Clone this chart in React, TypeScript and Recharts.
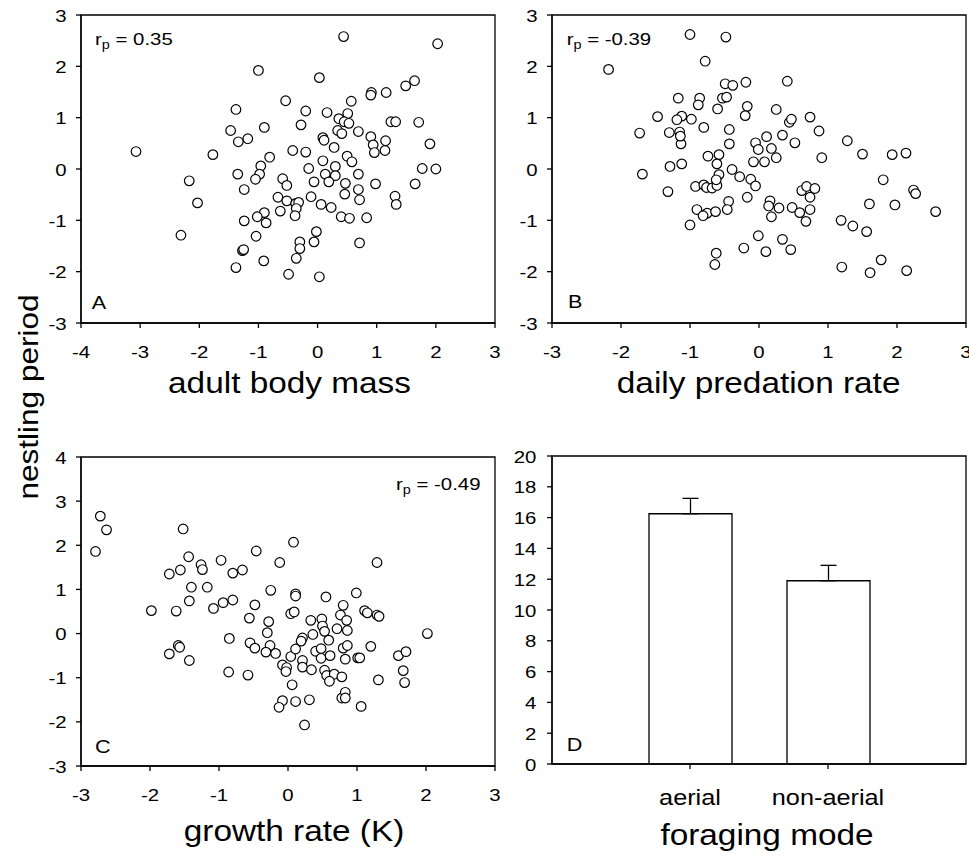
import React from "react";
import {
  ScatterChart,
  Scatter,
  BarChart,
  Bar,
  ErrorBar,
  XAxis,
  YAxis,
  ReferenceArea,
} from "recharts";

const FONT = '"Liberation Sans", Arial, Helvetica, sans-serif';

// panel A: adult body mass vs nestling period
const bodyMass: [number, number][] = [
  [-3.07, 0.34], [0.44, 2.58], [2.03, 2.44], [-1.0, 1.92], [0.03, 1.78],
  [1.64, 1.72], [1.49, 1.62], [0.91, 1.49], [0.9, 1.44], [1.16, 1.49],
  [-0.54, 1.33], [0.57, 1.32], [-1.38, 1.16], [-0.2, 1.13], [0.16, 1.1],
  [0.51, 1.08], [0.36, 0.98], [0.45, 0.92], [0.53, 0.89], [1.24, 0.92],
  [1.32, 0.92], [1.71, 0.91], [-0.28, 0.86], [-0.9, 0.81], [-1.47, 0.75],
  [0.34, 0.75], [0.41, 0.69], [0.69, 0.73], [-1.18, 0.59], [-1.34, 0.53],
  [0.09, 0.61], [0.11, 0.56], [0.28, 0.42], [0.9, 0.63], [0.94, 0.47],
  [0.96, 0.32], [1.15, 0.55], [1.14, 0.36], [1.9, 0.49], [-1.77, 0.28],
  [-0.42, 0.36], [-0.2, 0.33], [-0.81, 0.23], [-0.96, 0.06], [0.5, 0.25],
  [0.58, 0.14], [0.09, 0.16], [0.3, 0.05], [-0.15, 0.01], [1.77, 0.01],
  [2.0, 0.0], [-1.35, -0.1], [-0.98, -0.1], [-1.05, -0.2], [-2.17, -0.23],
  [-0.59, -0.19], [-0.52, -0.32], [0.13, -0.1], [0.3, -0.13], [-0.06, -0.25],
  [0.19, -0.25], [0.47, -0.28], [0.69, -0.1], [0.98, -0.29], [1.65, -0.29],
  [-1.24, -0.4], [-2.03, -0.66], [-0.67, -0.55], [-0.52, -0.62], [-0.37, -0.67],
  [-0.32, -0.65], [-0.36, -0.77], [-0.11, -0.54], [0.06, -0.69], [0.23, -0.75],
  [0.46, -0.49], [0.69, -0.4], [0.71, -0.6], [1.31, -0.53], [1.33, -0.69],
  [-0.63, -0.82], [-0.9, -0.85], [-1.02, -0.93], [-0.87, -1.05], [-1.24, -1.01],
  [-0.38, -0.91], [0.4, -0.93], [0.54, -0.96], [0.83, -0.95], [-2.31, -1.29],
  [-1.04, -1.31], [-0.02, -1.22], [-0.06, -1.42], [-0.3, -1.42], [-0.3, -1.55],
  [-1.27, -1.59], [-1.25, -1.57], [0.71, -1.44], [-0.36, -1.74], [-0.91, -1.79],
  [-1.38, -1.92], [-0.49, -2.05], [0.03, -2.1],
];

// panel B: daily predation rate vs nestling period
const predation: [number, number][] = [
  [-2.18, 1.94], [-1.0, 2.62], [-0.48, 2.57], [-0.78, 2.1], [-0.49, 1.66],
  [-0.38, 1.63], [-0.19, 1.69], [0.41, 1.71], [-1.17, 1.38], [-0.86, 1.38],
  [-0.88, 1.25], [-0.53, 1.38], [-0.47, 1.4], [-0.6, 1.17], [-0.17, 1.22],
  [-0.2, 1.04], [0.25, 1.16], [-1.47, 1.02], [-1.12, 1.03], [-1.19, 0.96],
  [-0.98, 0.97], [0.44, 0.91], [0.47, 0.97], [0.74, 1.01], [-1.73, 0.7],
  [-1.3, 0.71], [-1.15, 0.72], [-1.13, 0.49], [-1.14, 0.64], [-0.8, 0.81],
  [-0.43, 0.77], [-0.43, 0.49], [0.87, 0.74], [0.11, 0.63], [0.34, 0.66],
  [-0.05, 0.51], [-0.01, 0.38], [0.18, 0.4], [0.52, 0.51], [1.28, 0.55],
  [-0.74, 0.25], [-0.58, 0.28], [-0.61, 0.1], [-1.29, 0.05], [-1.12, 0.1],
  [-0.08, 0.14], [0.08, 0.14], [0.25, 0.22], [0.91, 0.22], [1.5, 0.29],
  [1.93, 0.28], [2.13, 0.31], [-0.39, -0.01], [-1.69, -0.1], [-0.58, -0.11],
  [-0.28, -0.15], [-0.12, -0.2], [-0.05, -0.33], [-0.92, -0.34], [-0.8, -0.31],
  [-0.76, -0.36], [-0.68, -0.37], [-0.61, -0.32], [-0.62, -0.21], [-1.32, -0.44],
  [-0.44, -0.63], [-0.17, -0.55], [0.16, -0.62], [0.14, -0.72], [0.29, -0.76],
  [0.18, -0.93], [0.48, -0.75], [0.59, -0.85], [0.62, -0.42], [0.69, -0.34],
  [0.81, -0.38], [0.74, -0.55], [0.74, -0.79], [0.68, -1.02], [-0.9, -0.79],
  [-0.75, -0.86], [-0.81, -0.91], [-0.63, -0.83], [-0.46, -0.79], [-1.0, -1.09],
  [-0.01, -1.3], [0.34, -1.37], [-0.22, -1.54], [0.1, -1.61], [0.46, -1.57],
  [-0.62, -1.64], [-0.64, -1.86], [1.8, -0.21], [2.24, -0.41], [2.27, -0.48],
  [1.6, -0.68], [1.97, -0.7], [2.56, -0.83], [1.19, -1.0], [1.36, -1.11],
  [1.56, -1.22], [1.77, -1.77], [1.2, -1.91], [1.61, -2.02], [2.14, -1.98],
];

// panel C: growth rate (K) vs nestling period
const growth: [number, number][] = [
  [-2.72, 2.66], [-2.63, 2.35], [-2.79, 1.86], [-1.52, 2.37], [-1.44, 1.74],
  [-1.72, 1.35], [-1.56, 1.44], [-1.26, 1.56], [-1.24, 1.45], [-0.97, 1.66],
  [-0.8, 1.37], [-0.66, 1.44], [-0.46, 1.87], [-0.12, 1.61], [0.08, 2.07],
  [1.29, 1.61], [-1.4, 1.05], [-1.17, 1.05], [-0.25, 0.98], [0.11, 0.9],
  [0.11, 0.85], [0.55, 0.83], [0.99, 0.92], [-1.98, 0.52], [-1.62, 0.51],
  [-1.43, 0.74], [-1.08, 0.57], [-0.94, 0.7], [-0.8, 0.76], [-0.48, 0.65],
  [-0.56, 0.35], [-0.28, 0.27], [-0.3, 0.02], [0.04, 0.45], [0.09, 0.49],
  [0.33, 0.3], [0.49, 0.33], [0.5, 0.17], [0.53, 0.05], [0.36, -0.02],
  [0.59, -0.15], [0.21, -0.1], [0.19, -0.17], [0.71, 0.11], [0.76, 0.42],
  [0.8, 0.64], [0.85, 0.3], [0.86, 0.07], [1.11, 0.52], [1.15, 0.47],
  [1.29, 0.42], [1.32, 0.39], [2.02, 0.0], [-0.85, -0.11], [-0.55, -0.21],
  [-0.48, -0.33], [-0.26, -0.27], [-0.32, -0.42], [-0.18, -0.45], [0.04, -0.52],
  [0.11, -0.35], [0.4, -0.4], [0.48, -0.34], [0.48, -0.56], [0.61, -0.5],
  [0.8, -0.33], [0.86, -0.27], [0.83, -0.58], [1.01, -0.55], [1.04, -0.55],
  [1.2, -0.29], [-1.72, -0.46], [-1.59, -0.27], [-1.57, -0.31], [-1.43, -0.61],
  [-0.86, -0.87], [-0.58, -0.94], [-0.08, -0.71], [-0.02, -0.77], [-0.03, -0.86],
  [0.21, -0.61], [0.21, -0.76], [0.34, -0.82], [0.53, -0.83], [0.56, -0.95],
  [0.67, -0.92], [0.6, -1.08], [0.78, -0.98], [0.06, -1.16], [1.31, -1.05],
  [1.6, -0.5], [1.71, -0.41], [1.67, -0.84], [1.69, -1.11], [-0.08, -1.52],
  [-0.13, -1.67], [0.11, -1.54], [0.31, -1.5], [0.78, -1.46], [0.83, -1.33],
  [0.83, -1.46], [1.06, -1.65], [0.24, -2.07],
];

// panel D: foraging mode
const modes = ["aerial", "non-aerial"];
const modeMeans = [16.25, 11.9];
const modeErrors = [1.0, 1.0];

const ticksA = [-4, -3, -2, -1, 0, 1, 2, 3];
const ticksX3 = [-3, -2, -1, 0, 1, 2, 3];
const ticksY3 = [-3, -2, -1, 0, 1, 2, 3];
const ticksY4 = [-3, -2, -1, 0, 1, 2, 3, 4];
const ticksD = [0, 2, 4, 6, 8, 10, 12, 14, 16, 18, 20];

const toPoints = (arr: [number, number][]) => arr.map(([x, y]) => ({ x, y }));

const axisLine = { stroke: "#000", strokeWidth: 1.3 };

const XTick = (props: any) => {
  const { x, y, payload } = props;
  return (
    <text
      transform={`translate(${x},${y + 29.5}) scale(1.2,1)`}
      textAnchor="middle"
      fontSize={17}
      fontFamily={FONT}
      fill="#000"
    >
      {payload.value}
    </text>
  );
};

const makeYTick = (gap: number) => (props: any) => {
  const { x, y, payload } = props;
  return (
    <text
      transform={`translate(${x - gap},${y + 6.5}) scale(1.2,1)`}
      textAnchor="end"
      fontSize={17}
      fontFamily={FONT}
      fill="#000"
    >
      {payload.value}
    </text>
  );
};

const ModeTick = (props: any) => {
  const { x, y, payload } = props;
  return (
    <text
      transform={`translate(${x},${y + 36}) scale(1.15,1)`}
      textAnchor="middle"
      fontSize={22}
      fontFamily={FONT}
      fill="#000"
    >
      {modes[payload.value - 1]}
    </text>
  );
};

const dot = (props: any) => (
  <circle cx={props.cx} cy={props.cy} r={4.8} fill="#fff" stroke="#000" strokeWidth={1.2} />
);

function Panel({
  left,
  top,
  height,
  points,
  xDomain,
  xTicks,
  yDomain,
  yTicks,
}: {
  left: number;
  top: number;
  height: number;
  points: [number, number][];
  xDomain: [number, number];
  xTicks: number[];
  yDomain: [number, number];
  yTicks: number[];
}) {
  return (
    <div style={{ position: "absolute", left, top }}>
      <ScatterChart width={520} height={height} margin={{ top: 15, right: 25, left: 0, bottom: 0 }}>
        <XAxis
          type="number"
          dataKey="x"
          domain={xDomain}
          ticks={xTicks}
          interval={0}
          height={77}
          tickSize={5}
          tickMargin={0}
          axisLine={axisLine}
          tickLine={axisLine}
          tick={<XTick />}
          allowDataOverflow
        />
        <YAxis
          type="number"
          dataKey="y"
          domain={yDomain}
          ticks={yTicks}
          interval={0}
          width={81}
          tickSize={5}
          tickMargin={0}
          axisLine={axisLine}
          tickLine={axisLine}
          tick={makeYTick(9.3)}
          allowDataOverflow
        />
        <ReferenceArea
          x1={xDomain[0]}
          x2={xDomain[1]}
          y1={yDomain[0]}
          y2={yDomain[1]}
          fill="none"
          stroke="#000"
          strokeWidth={1.3}
          ifOverflow="visible"
        />
        <Scatter data={toPoints(points)} shape={dot} isAnimationActive={false} />
      </ScatterChart>
    </div>
  );
}

function T({
  x,
  y,
  size,
  anchor = "start",
  sx = 1.15,
  rotate,
  children,
}: {
  x: number;
  y: number;
  size: number;
  anchor?: "start" | "middle" | "end";
  sx?: number;
  rotate?: number;
  children: React.ReactNode;
}) {
  const rot = rotate ? ` rotate(${rotate})` : "";
  return (
    <text
      transform={`translate(${x},${y})${rot} scale(${sx},1)`}
      textAnchor={anchor}
      fontSize={size}
      fontFamily={FONT}
      fill="#000"
    >
      {children}
    </text>
  );
}

function Rp({ x, y, value }: { x: number; y: number; value: string }) {
  return (
    <text transform={`translate(${x},${y}) scale(1.2,1)`} fontSize={17} fontFamily={FONT} fill="#000">
      r
      <tspan dy={4} fontSize={12}>
        p
      </tspan>
      <tspan dy={-4}>{` = ${value}`}</tspan>
    </text>
  );
}

export default function App() {
  const barData = modes.map((m, i) => ({
    pos: i + 1,
    mode: m,
    mean: modeMeans[i],
    err: [0, modeErrors[i]],
  }));

  return (
    <div style={{ position: "absolute", left: 0, top: 0, width: 969, height: 856, background: "#fff" }}>
      <Panel left={0} top={0} height={400} points={bodyMass} xDomain={[-4, 3]} xTicks={ticksA} yDomain={[-3, 3]} yTicks={ticksY3} />
      <Panel left={471} top={0} height={400} points={predation} xDomain={[-3, 3]} xTicks={ticksX3} yDomain={[-3, 3]} yTicks={ticksY3} />
      <Panel left={0} top={442} height={401} points={growth} xDomain={[-3, 3]} xTicks={ticksX3} yDomain={[-3, 4]} yTicks={ticksY4} />

      <div style={{ position: "absolute", left: 471, top: 441 }}>
        <BarChart width={520} height={400} data={barData} margin={{ top: 15, right: 25, left: 0, bottom: 0 }}>
          <XAxis
            type="number"
            dataKey="pos"
            domain={[0, 3]}
            ticks={[1, 2]}
            interval={0}
            height={77}
            tickSize={5}
            tickMargin={0}
            axisLine={axisLine}
            tickLine={axisLine}
            tick={<ModeTick />}
            allowDataOverflow
          />
          <YAxis
            type="number"
            domain={[0, 20]}
            ticks={ticksD}
            interval={0}
            width={81}
            tickSize={5}
            tickMargin={0}
            axisLine={axisLine}
            tickLine={axisLine}
            tick={makeYTick(10.6)}
            allowDataOverflow
          />
          <ReferenceArea x1={0} x2={3} y1={0} y2={20} fill="none" stroke="#000" strokeWidth={1.3} ifOverflow="visible" />
          <Bar dataKey="mean" fill="#fff" stroke="#000" strokeWidth={1.3} barSize={83} isAnimationActive={false}>
            <ErrorBar dataKey="err" width={8} stroke="#000" strokeWidth={1.3} direction="y" />
          </Bar>
        </BarChart>
      </div>

      <svg
        width={969}
        height={856}
        style={{ position: "absolute", left: 0, top: 0, pointerEvents: "none" }}
      >
        <T x={38.3} y={397} size={27} anchor="middle" sx={1.167} rotate={-90}>
          nestling period
        </T>
        <T x={289.5} y={393} size={29} anchor="middle">
          adult body mass
        </T>
        <T x={758.6} y={393} size={29} anchor="middle">
          daily predation rate
        </T>
        <T x={294} y={841} size={29} anchor="middle">
          growth rate (K)
        </T>
        <T x={767} y={845} size={29} anchor="middle">
          foraging mode
        </T>

        <Rp x={95} y={45} value="0.35" />
        <Rp x={566.7} y={45} value="-0.39" />
        <Rp x={396} y={490} value="-0.49" />

        <T x={91.7} y={309.3} size={18} sx={1.2}>A</T>
        <T x={568} y={307.7} size={18} sx={1.2}>B</T>
        <T x={95} y={752.7} size={18} sx={1.2}>C</T>
        <T x={566.7} y={750.7} size={18} sx={1.2}>D</T>
      </svg>
    </div>
  );
}
